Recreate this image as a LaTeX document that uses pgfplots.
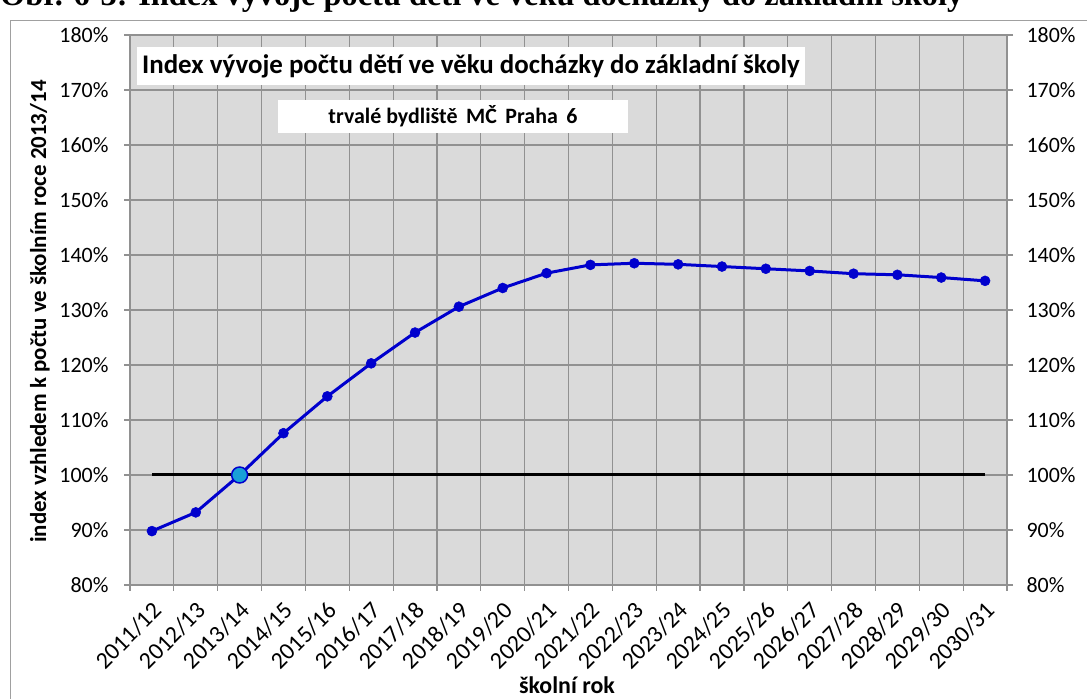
\documentclass[border=0pt]{standalone}
\usepackage{fontspec}
\setmainfont{Carlito}
\newfontfamily\capfont{Liberation Serif}
\usepackage{pgfplots}
\pgfplotsset{compat=1.18}
\definecolor{plotbg}{RGB}{218,218,218}
\definecolor{gridc}{RGB}{145,145,145}
\definecolor{serblue}{RGB}{0,0,205}
\definecolor{hilite}{RGB}{25,160,215}
\definecolor{framec}{RGB}{160,160,160}
\begin{document}
\begin{tikzpicture}
\useasboundingbox (0bp,0bp) rectangle (1087bp,699bp);
\clip (0bp,0bp) rectangle (1087bp,699bp);
\draw[framec, line width=1bp] (10.5bp,-5bp) -- (10.5bp,678.5bp) -- (1100bp,678.5bp);
\node[anchor=base west, font=\capfont\bfseries\fontsize{32.5}{34}\selectfont, inner sep=0] at (0bp,693bp) {Obr. 6-3: Index vývoje počtu dětí ve věku docházky do základní školy};
\begin{axis}[
  at={(130bp,114bp)}, anchor=south west,
  width=877bp, height=550bp, scale only axis,
  xmin=0, xmax=20, ymin=80, ymax=180,
  axis background/.style={fill=plotbg},
  axis line style={gridc, line width=1.2bp},
  tick pos=left, tick align=outside,
  major tick length=6bp,
  tick style={gridc, line width=1.2bp},
  grid=major,
  major grid style={gridc, line width=1.2bp},
  xtick={0,1,...,20}, xticklabels={},
  ytick={80,90,...,180},
  yticklabels={80\%,90\%,100\%,110\%,120\%,130\%,140\%,150\%,160\%,170\%,180\%},
  extra x ticks={0.5,1.5,...,19.5},
  extra x tick labels={2011/12,2012/13,2013/14,2014/15,2015/16,2016/17,2017/18,2018/19,2019/20,2020/21,2021/22,2022/23,2023/24,2024/25,2025/26,2026/27,2027/28,2028/29,2029/30,2030/31},
  extra x tick style={grid=none, major tick length=0pt,
     tick label style={font=\fontsize{24}{26}\selectfont, rotate=45, anchor=north east, xshift=-8bp, yshift=-7bp}},
  tick label style={font=\fontsize{22}{24}\selectfont},
  yticklabel style={xshift=-12bp},
  clip=false,
]
\addplot[black, line width=3bp] coordinates {(0.5,100) (19.5,100)};
\addplot[serblue, line width=3bp, mark=*, mark size=5bp, mark options={fill=serblue, line width=0.5bp}] coordinates {
(0.5,89.8) (1.5,93.2) (2.5,100.0) (3.5,107.6) (4.5,114.3) (5.5,120.3) (6.5,125.9) (7.5,130.6) (8.5,134.0) (9.5,136.7)
(10.5,138.2) (11.5,138.5) (12.5,138.3) (13.5,137.9) (14.5,137.5) (15.5,137.1) (16.5,136.6) (17.5,136.4) (18.5,135.9) (19.5,135.3)};
\addplot[only marks, mark=*, mark size=8bp, mark options={fill=hilite, draw=serblue, line width=1.5bp}] coordinates {(2.5,100)};
\end{axis}
\begin{axis}[
  at={(130bp,114bp)}, anchor=south west,
  width=877bp, height=550bp, scale only axis,
  xmin=0, xmax=20, ymin=80, ymax=180,
  axis y line*=right, axis x line=none,
  axis line style={gridc, line width=1.2bp},
  tick align=outside, major tick length=6bp,
  tick style={gridc, line width=1.2bp},
  ytick={80,90,...,180},
  yticklabels={80\%,90\%,100\%,110\%,120\%,130\%,140\%,150\%,160\%,170\%,180\%},
  tick label style={font=\fontsize{22}{24}\selectfont},
  yticklabel style={xshift=10bp},
]
\addplot[draw=none] coordinates {(0,80) (20,180)};
\end{axis}
\node[fill=white, minimum width=668bp, minimum height=38bp, inner sep=0, font=\bfseries\fontsize{27}{29}\selectfont] at (471bp,633bp) {Index vývoje počtu dětí ve věku docházky do základní školy};
\node[fill=white, minimum width=350bp, minimum height=33bp, inner sep=0, font=\bfseries\fontsize{22}{24}\selectfont] at (453bp,582.5bp) {trvalé bydliště \,MČ \,Praha \,6};
\node[rotate=90, font=\bfseries\fontsize{23}{25}\selectfont] at (40bp,387.5bp) {index vzhledem k počtu ve školním roce 2013/14};
\node[font=\bfseries\fontsize{24}{26}\selectfont] at (567bp,14bp) {školní rok};
\end{tikzpicture}
\end{document}
